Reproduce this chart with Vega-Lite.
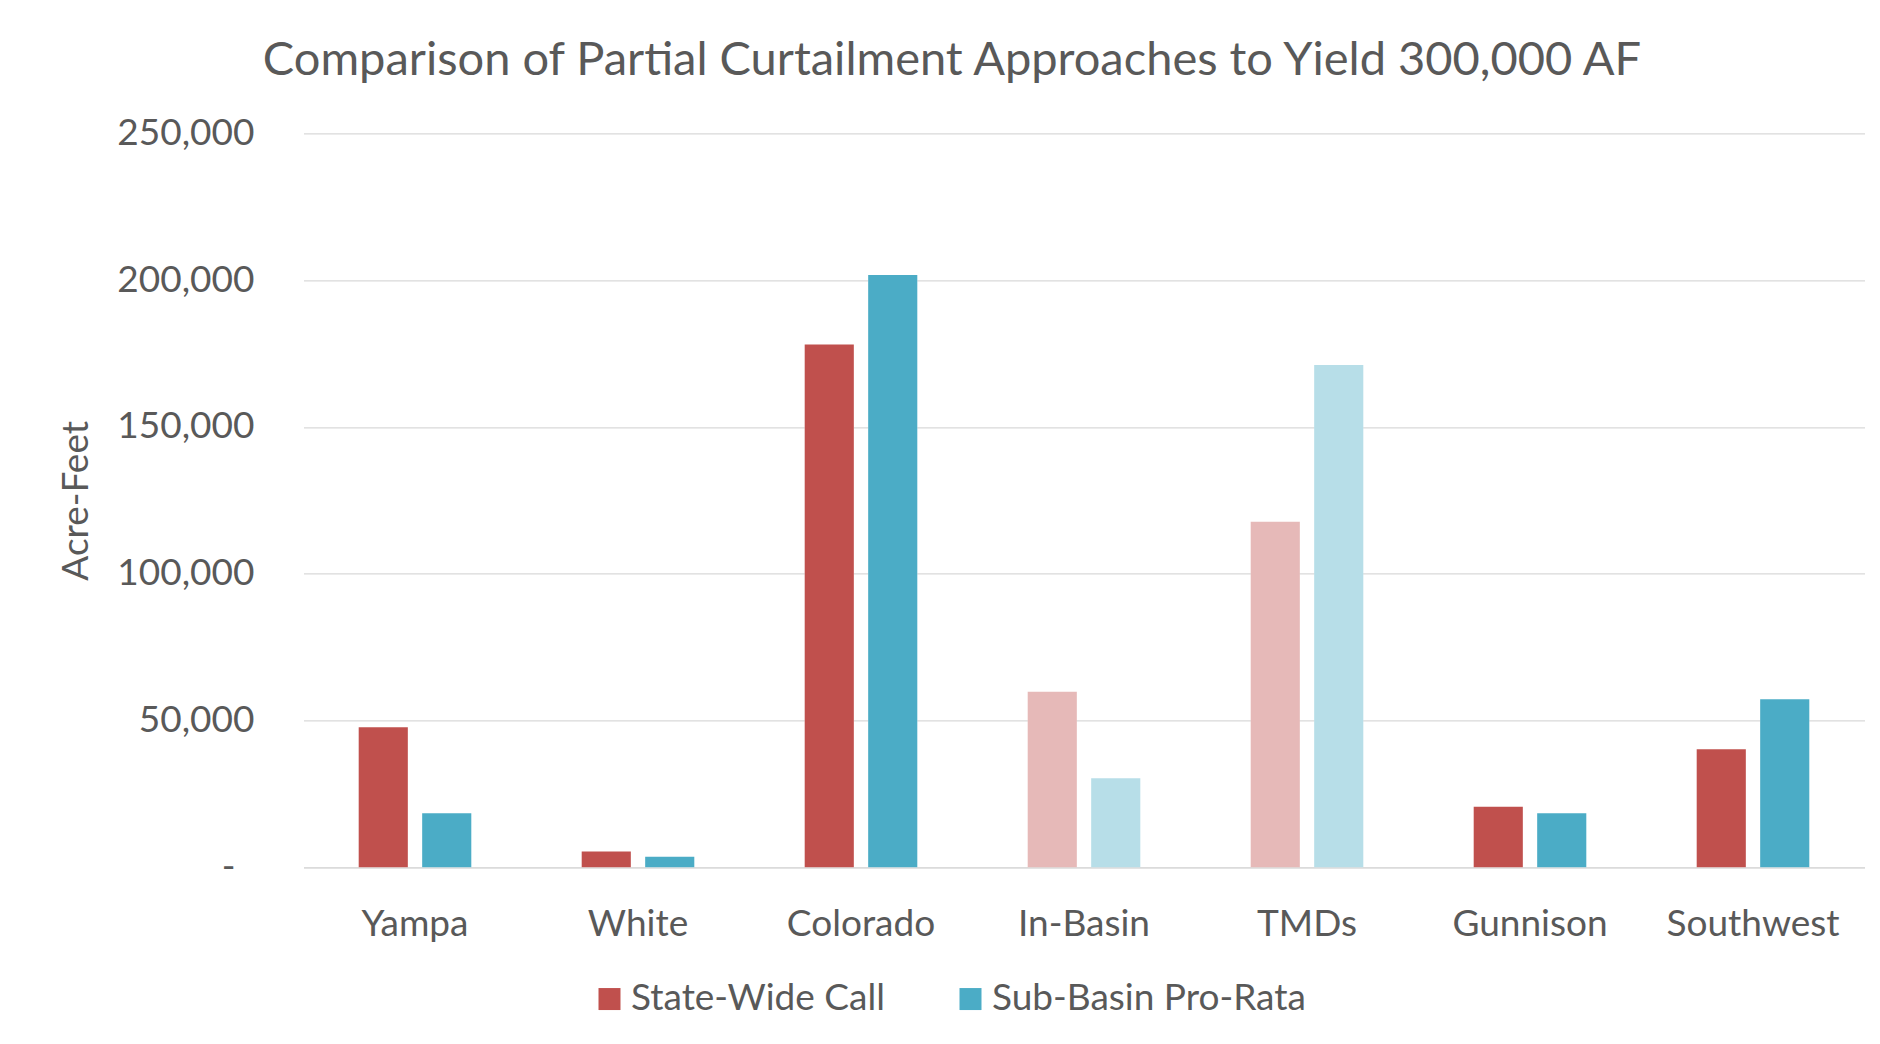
{
  "$schema": "https://vega.github.io/schema/vega-lite/v6.json",
  "width": 1561,
  "height": 734,
  "autosize": {"type": "none"},
  "padding": {"left": 303.5, "top": 133.3, "right": 15.5, "bottom": 176.7},
  "background": "white",
  "config": {"view": {"stroke": null}},
  "title": {
    "text": "Comparison of Partial Curtailment Approaches to Yield 300,000 AF",
    "font": "Lato",
    "fontSize": 47,
    "fontWeight": "normal",
    "color": "#595959",
    "anchor": "middle",
    "frame": "group",
    "dx": -132,
    "dy": 47,
    "baseline": "alphabetic",
    "offset": 39
  },
  "data": {
    "values": [
      {"basin": "Yampa", "approach": "State-Wide Call", "kind": "Sub-basin", "af": 47700},
      {"basin": "Yampa", "approach": "Sub-Basin Pro-Rata", "kind": "Sub-basin", "af": 18400},
      {"basin": "White", "approach": "State-Wide Call", "kind": "Sub-basin", "af": 5400},
      {"basin": "White", "approach": "Sub-Basin Pro-Rata", "kind": "Sub-basin", "af": 3600},
      {"basin": "Colorado", "approach": "State-Wide Call", "kind": "Sub-basin", "af": 178100},
      {"basin": "Colorado", "approach": "Sub-Basin Pro-Rata", "kind": "Sub-basin", "af": 201700},
      {"basin": "In-Basin", "approach": "State-Wide Call", "kind": "Colorado component", "af": 59800},
      {"basin": "In-Basin", "approach": "Sub-Basin Pro-Rata", "kind": "Colorado component", "af": 30300},
      {"basin": "TMDs", "approach": "State-Wide Call", "kind": "Colorado component", "af": 117700},
      {"basin": "TMDs", "approach": "Sub-Basin Pro-Rata", "kind": "Colorado component", "af": 171100},
      {"basin": "Gunnison", "approach": "State-Wide Call", "kind": "Sub-basin", "af": 20600},
      {"basin": "Gunnison", "approach": "Sub-Basin Pro-Rata", "kind": "Sub-basin", "af": 18400},
      {"basin": "Southwest", "approach": "State-Wide Call", "kind": "Sub-basin", "af": 40200},
      {"basin": "Southwest", "approach": "Sub-Basin Pro-Rata", "kind": "Sub-basin", "af": 57200}
    ]
  },
  "encoding": {
    "x": {
      "field": "basin",
      "type": "nominal",
      "sort": ["Yampa", "White", "Colorado", "In-Basin", "TMDs", "Gunnison", "Southwest"],
      "scale": {"paddingInner": 0.495, "paddingOuter": 0.2475},
      "axis": {
        "title": null,
        "labelAngle": 0,
        "labelFont": "Lato",
        "labelFontSize": 37,
        "labelColor": "#595959",
        "ticks": false,
        "domain": true,
        "domainColor": "#d9d9d9",
        "domainWidth": 1.3,
        "labelPadding": 68,
        "labelBaseline": "alphabetic",
        "grid": false
      }
    },
    "xOffset": {
      "field": "approach",
      "type": "nominal",
      "sort": ["State-Wide Call", "Sub-Basin Pro-Rata"],
      "scale": {"paddingInner": 0.226, "paddingOuter": 0}
    },
    "y": {
      "field": "af",
      "type": "quantitative",
      "scale": {"domain": [0, 250000], "nice": false},
      "axis": {
        "title": "Acre-Feet",
        "titleFont": "Lato",
        "titleFontSize": 37,
        "titleFontWeight": "normal",
        "titleColor": "#595959",
        "titleX": -216.5,
        "titleY": 367,
        "titleAngle": -90,
        "titleAlign": "center",
        "titleBaseline": "alphabetic",
        "labelFont": "Lato",
        "labelFontSize": 37,
        "labelColor": "#595959",
        "labelPadding": {"condition": {"test": "datum.value == 0", "value": 68.5}, "value": 49.5},
        "ticks": false,
        "domain": false,
        "grid": true,
        "gridColor": "#d9d9d9",
        "gridWidth": 1.3,
        "values": [0, 50000, 100000, 150000, 200000, 250000],
        "labelExpr": "datum.value == 0 ? '-' : format(datum.value, ',')"
      }
    }
  },
  "layer": [
    {
      "mark": {"type": "bar", "color": "white"}
    },
    {
      "mark": {"type": "bar"},
      "encoding": {
        "color": {
          "field": "approach",
          "type": "nominal",
          "scale": {"domain": ["State-Wide Call", "Sub-Basin Pro-Rata"], "range": ["#C0504D", "#4BACC6"]},
          "legend": {
            "orient": "none",
            "legendX": 287.5,
            "legendY": 847,
            "direction": "horizontal",
            "title": null,
            "symbolType": "square",
            "symbolSize": 484,
            "symbolStrokeWidth": 0,
            "symbolOpacity": 1,
            "labelFont": "Lato",
            "labelFontSize": 37,
            "labelColor": "#595959",
            "labelOffset": 3,
            "labelLimit": 0,
            "columnPadding": 67
          }
        },
        "opacity": {
          "field": "kind",
          "type": "nominal",
          "scale": {"domain": ["Sub-basin", "Colorado component"], "range": [1, 0.4]},
          "legend": null
        }
      }
    }
  ]
}
